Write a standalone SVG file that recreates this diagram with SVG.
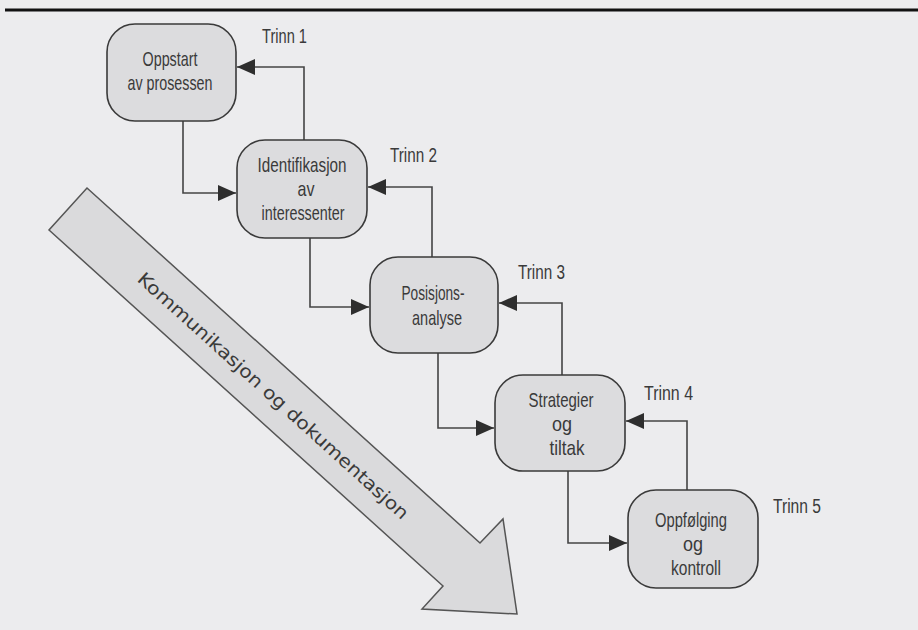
<svg xmlns="http://www.w3.org/2000/svg" width="918" height="630" viewBox="0 0 918 630">
<defs>
<style>
.box{fill:#dcdcde;stroke:#3a3a3a;stroke-width:1.6}
.lbl{font-family:"Liberation Sans",Arial,sans-serif;font-size:21px;fill:#3a3a3a;text-anchor:middle}
.trinn{font-family:"Liberation Sans",Arial,sans-serif;font-size:20px;fill:#3a3a3a}
.con{fill:none;stroke:#444;stroke-width:1.6}
</style>
<marker id="ah" markerUnits="userSpaceOnUse" markerWidth="18" markerHeight="16" refX="18" refY="8" orient="auto">
<path d="M0,0 L18,8 L0,16 z" fill="#2e2e2e"/>
</marker>
</defs>
<rect x="0" y="0" width="918" height="630" fill="#ececee"/>
<rect x="5" y="8.5" width="913" height="3" fill="#111"/>

<g id="big-arrow">
<polygon points="87,188 480,543 503,519 517,614 422,609 443,586 49,230" fill="#dadadc" stroke="#555" stroke-width="1.5" stroke-linejoin="miter"/>
<text transform="translate(273,396) rotate(42.1)" x="0" y="6" font-family="DejaVu Sans,sans-serif" font-size="18" fill="#3a3a3a" text-anchor="middle" textLength="358" lengthAdjust="spacingAndGlyphs">Kommunikasjon og dokumentasjon</text>
</g>

<g id="connectors">
<path class="con" d="M183,121 V193 H236" marker-end="url(#ah)"/>
<path class="con" d="M304,140 V67 H237" marker-end="url(#ah)"/>
<path class="con" d="M310,238 V307 H369" marker-end="url(#ah)"/>
<path class="con" d="M432,257 V187 H368" marker-end="url(#ah)"/>
<path class="con" d="M438,353 V428 H494" marker-end="url(#ah)"/>
<path class="con" d="M562,375 V303 H499" marker-end="url(#ah)"/>
<path class="con" d="M568,471 V543 H627" marker-end="url(#ah)"/>
<path class="con" d="M687,490 V421 H626" marker-end="url(#ah)"/>
</g>

<g id="node1">
<rect class="box" x="107" y="24" width="129" height="97" rx="28"/>
<text class="lbl" x="170" y="66" textLength="55" lengthAdjust="spacingAndGlyphs">Oppstart</text>
<text class="lbl" x="170" y="90" textLength="85" lengthAdjust="spacingAndGlyphs">av prosessen</text>
</g>
<g id="node2">
<rect class="box" x="237" y="140" width="130" height="98" rx="28"/>
<text class="lbl" x="302" y="172" textLength="89" lengthAdjust="spacingAndGlyphs">Identifikasjon</text>
<text class="lbl" x="306" y="196" textLength="17" lengthAdjust="spacingAndGlyphs">av</text>
<text class="lbl" x="303" y="220" textLength="83" lengthAdjust="spacingAndGlyphs">interessenter</text>
</g>
<g id="node3">
<rect class="box" x="370" y="257" width="128" height="96" rx="28"/>
<text class="lbl" x="433" y="300" textLength="63" lengthAdjust="spacingAndGlyphs">Posisjons-</text>
<text class="lbl" x="437" y="325" textLength="50" lengthAdjust="spacingAndGlyphs">analyse</text>
</g>
<g id="node4">
<rect class="box" x="495" y="375" width="130" height="96" rx="28"/>
<text class="lbl" x="561" y="407" textLength="65" lengthAdjust="spacingAndGlyphs">Strategier</text>
<text class="lbl" x="562" y="431" textLength="20" lengthAdjust="spacingAndGlyphs">og</text>
<text class="lbl" x="567" y="455" textLength="35" lengthAdjust="spacingAndGlyphs">tiltak</text>
</g>
<g id="node5">
<rect class="box" x="628" y="490" width="130" height="98" rx="28"/>
<text class="lbl" x="691" y="527" textLength="72" lengthAdjust="spacingAndGlyphs">Oppfølging</text>
<text class="lbl" x="693" y="551" textLength="20" lengthAdjust="spacingAndGlyphs">og</text>
<text class="lbl" x="696" y="575" textLength="50" lengthAdjust="spacingAndGlyphs">kontroll</text>
</g>

<g id="labels">
<text class="trinn" x="262" y="43" textLength="45" lengthAdjust="spacingAndGlyphs">Trinn 1</text>
<text class="trinn" x="390" y="162" textLength="47" lengthAdjust="spacingAndGlyphs">Trinn 2</text>
<text class="trinn" x="518" y="279" textLength="47" lengthAdjust="spacingAndGlyphs">Trinn 3</text>
<text class="trinn" x="644" y="400" textLength="49" lengthAdjust="spacingAndGlyphs">Trinn 4</text>
<text class="trinn" x="773" y="513" textLength="48" lengthAdjust="spacingAndGlyphs">Trinn 5</text>
</g>
</svg>
